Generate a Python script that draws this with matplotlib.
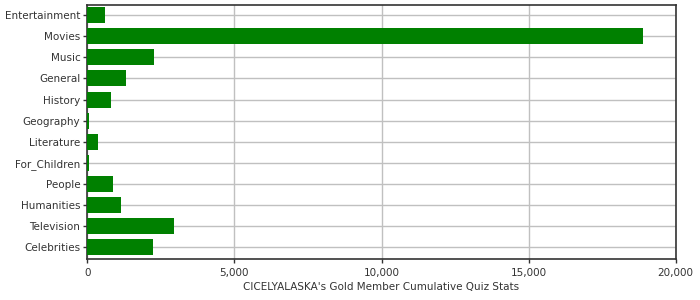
import matplotlib
matplotlib.use("Agg")
import matplotlib.pyplot as plt
from matplotlib.ticker import StrMethodFormatter

# Category values
categories = ['Entertainment', 'Movies', 'Music', 'General', 'History', 'Geography',
              'Literature', 'For_Children', 'People', 'Humanities', 'Television', 'Celebrities']
values = [600, 18890, 2265, 1315, 805, 55, 365, 55, 875, 1145, 2945, 2235]
x_ticks = [0, 5000, 10000, 15000, 20000]

fig = plt.figure(figsize=(7, 3), dpi=100)
ax = fig.add_axes([0.1247, 0.1357, 0.8406, 0.8476])

ax.barh(range(len(categories)), values, height=0.76, color='#008000', zorder=3)

ax.set_yticks(range(len(categories)))
ax.set_yticklabels(categories)
ax.set_ylim(11.57, -0.48)
ax.set_xlim(0, 20000)
ax.set_xticks(x_ticks)
ax.xaxis.set_major_formatter(StrMethodFormatter('{x:,.0f}'))

ax.grid(True, color='#c0c0c0', linewidth=1, zorder=0)
for s in ax.spines.values():
    s.set_color('#333333')
    s.set_linewidth(1.2)

ax.tick_params(axis='both', labelsize=7.5, colors='#333333', length=3, width=1, pad=2)
ax.tick_params(axis='x', pad=3)
ax.set_xlabel("CICELYALASKA's Gold Member Cumulative Quiz Stats", fontsize=7.5, color='#333333', labelpad=3)

fig.savefig('out.png', dpi=100)
